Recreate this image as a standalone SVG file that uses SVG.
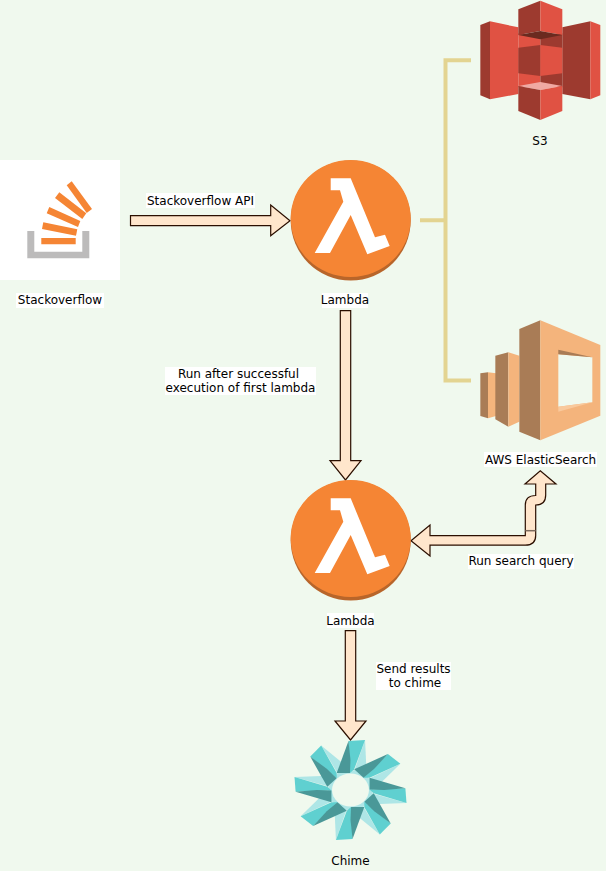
<svg xmlns="http://www.w3.org/2000/svg" xmlns:xlink="http://www.w3.org/1999/xlink" width="606" height="871" viewBox="0 0 606 871">
<style>
text{font-family:"DejaVu Sans",Verdana,sans-serif;font-size:12px;fill:#000;text-anchor:middle}
.lb{fill:#fff}
.ar{fill:#ffe6cc;stroke:#2b0f00;stroke-width:1.2;stroke-linejoin:miter}
.br{fill:none;stroke:#e3d491;stroke-width:4}
.s-d{fill:#9d3a2f}.s-l{fill:#e05243}
.e-d{fill:#a97c56}.e-l{fill:#f4b47c}
.o{fill:#f58534}
</style>
<defs>
<g id="lam">
<circle cx="350.7" cy="220.5" r="60" fill="#b8652a"/>
<ellipse cx="350.7" cy="218.5" rx="60" ry="58.5" fill="#f58534"/>
<polygon fill="#fff" points="330.7,178.3 350.7,178.3 375,237.3 385,234.7 389.7,246 367.3,254.3 350.7,215 330,253 314.7,253 343.3,201.7 340,190.3 330.7,190.3"/>
</g>
<polygon id="bl" fill="#aee6e6" points="13,-50 14,-26 12,-12 3,-18"/>
<g id="bm">
<polygon fill="#5fd0d0" points="-1.800,-49 13,-50 3.300,-20.700 -0.500,-17"/>
<polygon fill="#4a9898" points="-1.800,-49 -12.300,-17 -0.500,-17 0,-30"/>
</g>
</defs>
<rect width="606" height="871" fill="#f0f9ee"/>
<g id="connectors">
<path class="br" d="M471 60.300H445.500V380.500H471M420 220.300H445.500"/>
<polygon class="ar" points="130.500,215.700 270.700,215.700 270.700,205 290,220.700 270.700,235.700 270.700,225.700 130.500,225.700"/>
<polygon class="ar" points="340.300,310.700 350.700,310.700 350.700,460.700 361,460.700 345.500,480 330,460.700 340.300,460.700"/>
<polygon class="ar" points="345.300,630.700 355.700,630.700 355.700,721 366,721 350.500,740 335,721 345.300,721"/>
<path class="ar" d="M411 540.700L430 525V535.700H525.300V505Q525.300 495.500 535.700 495.500V484H525L540.300 470.700L556 484H545.700V495Q545.700 505 535.700 505V535.500Q535.700 545.200 525.300 545.200H430V556Z"/>
<path d="M525.300 530.700H535.700" stroke="#7d6a5c" stroke-width="1.500" fill="none"/>
</g>
<g id="stackoverflow">
<rect x="0" y="160" width="120" height="120" fill="#fff"/>
<polygon fill="#bcbbbb" points="27.300,231 34.300,231 34.300,251.700 82.300,251.700 82.300,231 89.300,231 89.300,258.300 27.300,258.300"/>
<polygon class="o" points="41.300,238 75.700,238 75.700,244.300 41.300,244.300"/>
<polygon class="o" points="43.300,222.300 77.300,229.300 76,235.700 42,229"/>
<polygon class="o" points="49.300,207 80.300,221 78,227 46.700,213.300"/>
<polygon class="o" points="59.300,192.300 86.300,213.300 82.300,219 55,198"/>
<polygon class="o" points="71.700,181.300 92,209 86.700,213 66.700,185.300"/>
<rect class="lb" x="16" y="293" width="88" height="15"/><text x="60" y="304">Stackoverflow</text>
</g>
<g id="lambda1">
<use xlink:href="#lam" href="#lam"/>
<rect class="lb" x="322" y="293" width="46" height="15"/><text x="345" y="304">Lambda</text>
</g>
<g id="s3">
<g transform="translate(470 0) scale(.3333)">
<polygon class="s-d" points="31,75 60,64 60,298 31,286"/>
<polygon class="s-l" points="60,64 145,82 145,282 60,298"/>
<polygon class="s-d" points="277,82 361,64 361,298 277,282"/>
<polygon class="s-l" points="361,64 391,75 391,286 361,298"/>
<polygon class="s-l" points="145,100 211,115 211,260 145,262"/>
<polygon class="s-d" points="211,115 277,100 277,262 211,260"/>
<polygon class="s-d" points="145,28 211,2 211,93 145,105"/>
<polygon class="s-l" points="211,2 277,28 277,105 211,93"/>
<polygon fill="#6b2a1f" points="145,105 211,93 277,105 211,118"/>
<polygon class="s-d" points="145,143 211,135 211,228 145,220"/>
<polygon class="s-l" points="211,135 277,143 277,220 211,228"/>
<polygon fill="#f0a9a3" points="145,258 211,246 277,258 211,270"/>
<polygon class="s-d" points="145,258 211,270 211,360 145,333"/>
<polygon class="s-l" points="211,270 277,258 277,333 211,360"/>
</g>
<text x="540" y="145">S3</text>
</g>
<g id="elasticsearch">
<g transform="translate(470 315) scale(.3333)">
<polygon class="e-d" points="31,175 54,172 54,310 31,303"/>
<polygon class="e-l" points="54,172 78,175 78,303 54,310"/>
<polygon class="e-d" points="76,122 115,112 115,335 76,313"/>
<polygon class="e-l" points="115,112 148,122 148,320 115,335"/>
<polygon class="e-d" points="148,42 211,16 211,376 148,350"/>
<polygon class="e-l" points="211,16 391,90 391,302 211,376"/>
<polygon fill="#f0f9ee" points="265,118 367,127 367,262 265,275"/>
<polygon class="e-d" points="265,104 367,127 265,118"/>
<polygon fill="#f9c99c" points="265,275 367,262 265,290"/>
</g>
<rect class="lb" x="484" y="452" width="113" height="15"/><text x="540.500" y="464">AWS ElasticSearch</text>
</g>
<g id="lambda2">
<use xlink:href="#lam" href="#lam" y="320"/>
<rect class="lb" x="327" y="613" width="47" height="15"/><text x="350.500" y="625">Lambda</text>
</g>
<g id="chime">
<g transform="translate(350.500 790) scale(1.12 1)">
<use href="#bl" xlink:href="#bl"/>
<use href="#bl" xlink:href="#bl" transform="rotate(45)"/>
<use href="#bl" xlink:href="#bl" transform="rotate(90)"/>
<use href="#bl" xlink:href="#bl" transform="rotate(135)"/>
<use href="#bl" xlink:href="#bl" transform="rotate(180)"/>
<use href="#bl" xlink:href="#bl" transform="rotate(225)"/>
<use href="#bl" xlink:href="#bl" transform="rotate(270)"/>
<use href="#bl" xlink:href="#bl" transform="rotate(315)"/>
<circle r="20" fill="#aee6e6"/>
<use href="#bm" xlink:href="#bm"/>
<use href="#bm" xlink:href="#bm" transform="rotate(45)"/>
<use href="#bm" xlink:href="#bm" transform="rotate(90)"/>
<use href="#bm" xlink:href="#bm" transform="rotate(135)"/>
<use href="#bm" xlink:href="#bm" transform="rotate(180)"/>
<use href="#bm" xlink:href="#bm" transform="rotate(225)"/>
<use href="#bm" xlink:href="#bm" transform="rotate(270)"/>
<use href="#bm" xlink:href="#bm" transform="rotate(315)"/>
<circle r="16.500" fill="#f0f9ee"/>
</g>
<text x="350.500" y="865">Chime</text>
</g>
<g id="labels">
<rect class="lb" x="146" y="193" width="109" height="15"/><text x="200.500" y="205">Stackoverflow API</text>
<rect class="lb" x="165" y="367" width="151" height="28"/><text x="238.500" y="378">Run after successful</text><text x="240.500" y="392">execution of first lambda</text>
<rect class="lb" x="376" y="662" width="75" height="28"/><text x="413.500" y="673">Send results</text><text x="415" y="687">to chime</text>
<rect class="lb" x="468" y="554" width="106" height="15"/><text x="521" y="565">Run search query</text>
</g>
</svg>
